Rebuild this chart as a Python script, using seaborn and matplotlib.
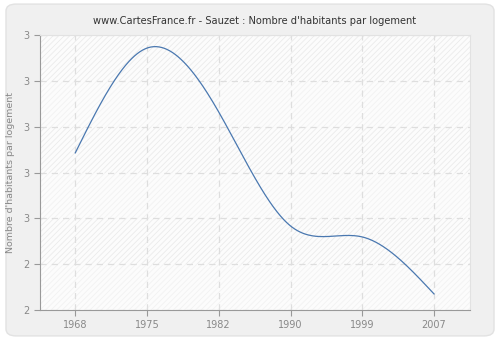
import numpy as np
import pandas as pd
import matplotlib
matplotlib.use("Agg")
import matplotlib.pyplot as plt
import seaborn as sns
from matplotlib.patches import FancyBboxPatch
from matplotlib.ticker import FuncFormatter, FixedLocator

years = ["1968", "1975", "1982", "1990", "1999", "2007"]
values = [2.885, 3.343, 3.064, 2.567, 2.519, 2.270]
yticks = [2.2, 2.4, 2.6, 2.8, 3.0, 3.2, 3.4]
title = "www.CartesFrance.fr - Sauzet : Nombre d'habitants par logement"
ylabel = "Nombre d'habitants par logement"


def natural_spline(x, y, n=400):
    x = np.asarray(x, float); y = np.asarray(y, float)
    m = len(x)
    h = np.diff(x)
    A = np.zeros((m, m)); b = np.zeros(m)
    A[0, 0] = 1; A[-1, -1] = 1
    for i in range(1, m - 1):
        A[i, i - 1] = h[i - 1]; A[i, i] = 2 * (h[i - 1] + h[i]); A[i, i + 1] = h[i]
        b[i] = 3 * ((y[i + 1] - y[i]) / h[i] - (y[i] - y[i - 1]) / h[i - 1])
    c = np.linalg.solve(A, b)
    xs = np.linspace(x[0], x[-1], n)
    ys = np.empty_like(xs)
    for k, xv in enumerate(xs):
        i = min(np.searchsorted(x, xv, side="right") - 1, m - 2)
        dx = xv - x[i]
        bi = (y[i + 1] - y[i]) / h[i] - h[i] * (2 * c[i] + c[i + 1]) / 3
        di = (c[i + 1] - c[i]) / (3 * h[i])
        ys[k] = y[i] + bi * dx + c[i] * dx ** 2 + di * dx ** 3
    return xs, ys


sns.set_style("white")
plt.rcParams["font.family"] = ["DejaVu Sans"]
plt.rcParams["hatch.linewidth"] = 0.6

fig = plt.figure(figsize=(5, 3.4), dpi=100)
fig.patch.set_facecolor("white")
fig.patches.append(FancyBboxPatch((0.012, 0.012), 0.976, 0.976, boxstyle="round,pad=0,rounding_size=0.02",
                                  transform=fig.transFigure, facecolor="#f0f0f0", edgecolor="#e2e2e2",
                                  linewidth=1, zorder=-10))
ax = fig.add_axes([0.08, 0.088, 0.86, 0.809])
ax.set_facecolor("#fcfcfc")

idx = np.arange(len(years))
xs, ys = natural_spline(idx, values)
df = pd.DataFrame({"x": xs, "y": ys})

ax.set_xlim(-0.49, len(years) - 1 + 0.5)
ax.set_ylim(yticks[0], yticks[-1])

# banded hatched background (top band strongest, alternating)
n_b = len(yticks) - 1
for j in range(n_b):
    lo, hi = yticks[j], yticks[j + 1]
    strong = (n_b - 1 - j) % 2 == 0
    ax.axhspan(lo, hi, facecolor="none", edgecolor="#ebebeb" if strong else "#f2f2f2",
               hatch="//////", linewidth=0, zorder=0)

sns.lineplot(data=df, x="x", y="y", ax=ax, color="#4a78b0", linewidth=0.9, zorder=3)

ax.xaxis.set_major_locator(FixedLocator(idx))
ax.set_xticklabels(years)
ax.yaxis.set_major_locator(FixedLocator(yticks))
ax.yaxis.set_major_formatter(FuncFormatter(lambda v, p: f"{v:.0f}"))

ax.grid(True, color="#dedede", linestyle=(0, (5, 4)), linewidth=0.9)
ax.set_axisbelow(True)

for s in ["top", "right"]:
    ax.spines[s].set_color("#e2e2e2")
for s in ["left", "bottom"]:
    ax.spines[s].set_color("#999999")
ax.tick_params(axis="both", colors="#999999", labelcolor="#888888", labelsize=7,
               direction="out", length=4, width=0.8, bottom=True, left=True)

ax.set_xlabel("")
ax.set_ylabel(ylabel, fontsize=6.8, color="#888888", labelpad=6)
ax.set_title(title, fontsize=7.1, color="#333333", pad=8)

fig.savefig("out.png", dpi=100, facecolor=fig.get_facecolor())
